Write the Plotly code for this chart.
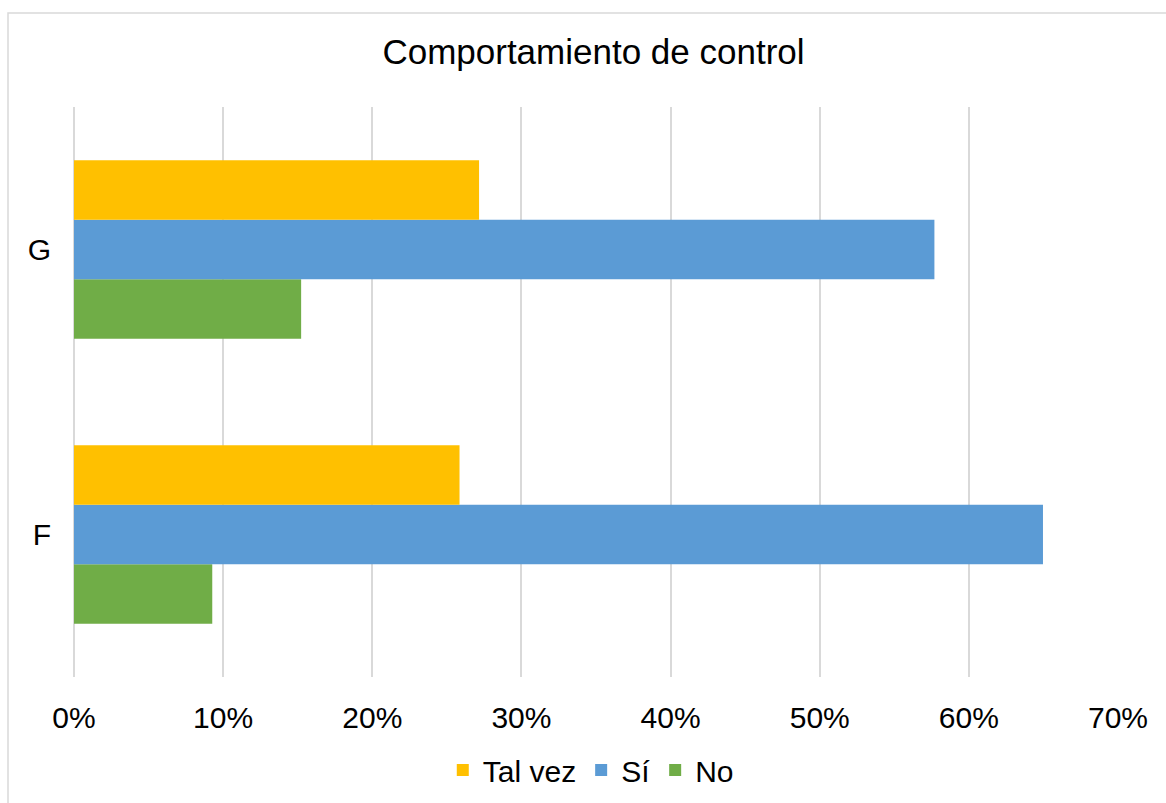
import plotly.graph_objects as go

categories = ["F", "G"]
tal_vez = [0.2585, 0.2716]
si = [0.6497, 0.5769]
no = [0.0927, 0.1523]

colors = {"Tal vez": "#FFC000", "Sí": "#5B9BD5", "No": "#70AD47"}
font_family = "Liberation Sans, Arial, sans-serif"

fig = go.Figure()
# Horizontal groups stack from the bottom up, so add "No" first to put "Tal vez" on top
for name, vals, rank in [("No", no, 3), ("Sí", si, 2), ("Tal vez", tal_vez, 1)]:
    fig.add_trace(go.Bar(
        y=categories, x=vals, name=name, orientation="h",
        marker=dict(color=colors[name], line=dict(width=0)),
        legendrank=rank,
    ))

fig.update_layout(
    width=1166, height=803,
    margin=dict(l=74, r=48, t=107, b=126, autoexpand=False),
    paper_bgcolor="white", plot_bgcolor="white",
    barmode="group", bargap=0.374, bargroupgap=0,
    font=dict(family=font_family, size=30, color="#000000"),
    title=dict(text="Comportamiento de control", x=0.509, xanchor="center",
               y=1 - 52 / 803, yanchor="middle", yref="container",
               font=dict(size=35, family=font_family, color="#000000")),
    legend=dict(orientation="h", x=0.495, xanchor="center",
                y=1 - 770 / 803, yanchor="middle", yref="container",
                font=dict(size=30), itemwidth=30, traceorder="normal"),
    showlegend=True,
)
fig.update_xaxes(range=[0, 0.7], dtick=0.1, tickformat=".0%",
                 showgrid=True, gridcolor="#d9d9d9", gridwidth=1.5,
                 zeroline=True, zerolinecolor="#d9d9d9", zerolinewidth=1.5,
                 showline=False, ticks="", ticklabelstandoff=20, automargin=False)
fig.update_yaxes(showgrid=False, zeroline=False, showline=False, ticks="",
                 ticklabelstandoff=22, automargin=False)

# Outer chart frame
fig.add_shape(type="rect", xref="paper", yref="paper",
              x0=(8 - 74) / 1044, x1=1.2, y0=-0.4, y1=(677 - 13) / 570,
              line=dict(color="#d9d9d9", width=1.5), layer="below")

fig.write_html("out.html")
